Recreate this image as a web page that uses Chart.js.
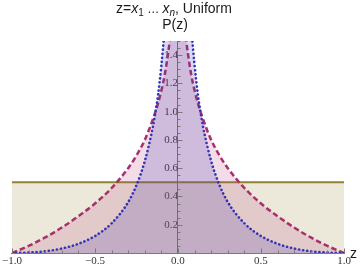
<!DOCTYPE html>
<html>
<head>
<meta charset="utf-8">
<script src="https://cdn.jsdelivr.net/npm/chart.js@4.4.0/dist/chart.umd.min.js"></script>
<style>
  html, body { margin: 0; padding: 0; background: #fff; }
  #wrap { width: 364px; height: 267px; position: relative; }
</style>
</head>
<body>
<div id="wrap"><canvas id="chart"></canvas></div>
<script>
// values
var zValues = [-1, -0.9, -0.8, -0.7, -0.6, -0.5, -0.4, -0.3, -0.25, -0.2, -0.15, -0.12, -0.1, -0.08, -0.06, -0.05, -0.04, -0.03,
               0.03, 0.04, 0.05, 0.06, 0.08, 0.1, 0.12, 0.15, 0.2, 0.25, 0.3, 0.4, 0.5, 0.6, 0.7, 0.8, 0.9, 1];
var prod2P = [0, 0.05, 0.11, 0.18, 0.26, 0.35, 0.46, 0.60, 0.69, 0.80, 0.95, 1.06, 1.15, 1.26, 1.41, 1.50, 1.61, 1.75,
              1.75, 1.61, 1.50, 1.41, 1.26, 1.15, 1.06, 0.95, 0.80, 0.69, 0.60, 0.46, 0.35, 0.26, 0.18, 0.11, 0.05, 0];
var prod3P = [0, 0.003, 0.012, 0.032, 0.065, 0.12, 0.21, 0.36, 0.48, 0.65, 0.90, 1.12, 1.33, 1.60, 1.98, 2.24, 2.59, 3.07,
              3.07, 2.59, 2.24, 1.98, 1.60, 1.33, 1.12, 0.90, 0.65, 0.48, 0.36, 0.21, 0.12, 0.065, 0.032, 0.012, 0.003, 0];
var uniformZ = [-1, 1];
var uniformP = [0.5, 0.5];

var xTickValues = [-1, -0.5, 0, 0.5, 1];
var xTickLabels = ["\u22121.0", "\u22120.5", "0.0", "0.5", "1.0"];
var yTickValues = [0.2, 0.4, 0.6, 0.8, 1.0, 1.2, 1.4];
var yTickLabels = ["0.2", "0.4", "0.6", "0.8", "1.0", "1.2", "1.4"];

function pts(xs, ys) {
  return xs.map(function(x, i) { return { x: x, y: ys[i] }; });
}

var axisColor = "#7a7a7a";
var tickFont = { family: "'Liberation Serif', 'DejaVu Serif', serif", size: 11 };

// minor/major tick marks pointing into the plot, like Mathematica
var tickMarks = {
  id: "tickMarks",
  afterDatasetsDraw: function(chart) {
    var ctx = chart.ctx, xs = chart.scales.x, ys = chart.scales.y;
    var y0 = ys.getPixelForValue(0), x0 = xs.getPixelForValue(0);
    ctx.save();
    ctx.strokeStyle = axisColor;
    ctx.lineWidth = 1;
    ctx.beginPath();
    for (var i = -10; i <= 10; i++) {
      var v = i / 10;
      var px = Math.round(xs.getPixelForValue(v)) + 0.5;
      var len = (i % 5 === 0) ? 4.5 : 2.5;
      ctx.moveTo(px, y0);
      ctx.lineTo(px, y0 - len);
    }
    for (var j = 1; j <= 30; j++) {
      var w = j * 0.05;
      var py = Math.round(ys.getPixelForValue(w)) + 0.5;
      var l2 = (j % 4 === 0) ? 4.5 : 2.5;
      ctx.moveTo(x0, py);
      ctx.lineTo(x0 + l2, py);
    }
    ctx.stroke();
    ctx.restore();
  }
};

// title and axis labels
var labels = {
  id: "labels",
  afterDraw: function(chart) {
    var ctx = chart.ctx, xs = chart.scales.x, ys = chart.scales.y;
    var sans = "'Liberation Sans', Arial, sans-serif";
    ctx.save();
    ctx.fillStyle = "#1a1a1a";
    ctx.textBaseline = "alphabetic";
    var parts = [
      { t: "z=", f: "14px " + sans, dy: 0 },
      { t: "x", f: "italic 14px " + sans, dy: 0 },
      { t: "1", f: "10px " + sans, dy: 3 },
      { t: " \u2026 ", f: "12px " + sans, dy: 0 },
      { t: "x", f: "italic 14px " + sans, dy: 0 },
      { t: "n", f: "italic 10px " + sans, dy: 3 },
      { t: ", Uniform", f: "14px " + sans, dy: 0 }
    ];
    var total = 0;
    parts.forEach(function(p) { ctx.font = p.f; p.w = ctx.measureText(p.t).width; total += p.w; });
    var x = 174 - total / 2;
    ctx.textAlign = "left";
    parts.forEach(function(p) { ctx.font = p.f; ctx.fillText(p.t, x, 13 + p.dy); x += p.w; });

    ctx.font = "14px " + sans;
    ctx.textAlign = "center";
    ctx.fillText("P(z)", xs.getPixelForValue(0) - 3, 29);
    ctx.textAlign = "left";
    ctx.font = "14px " + sans;
    ctx.fillText("z", chart.chartArea.right + 6, ys.getPixelForValue(0) + 5);
    ctx.restore();
  }
};

var ctx = document.getElementById("chart").getContext("2d");
var chart = new Chart(ctx, {
  type: "line",
  data: {
    datasets: [
      {
        label: "n=3",
        data: pts(zValues, prod3P),
        borderColor: "#3434b4",
        backgroundColor: "rgba(70,60,170,0.2)",
        borderWidth: 2.6,
        borderDash: [0.1, 4],
        borderCapStyle: "round",
        fill: "origin",
        cubicInterpolationMode: "monotone",
        pointRadius: 0,
        order: 1
      },
      {
        label: "n=2",
        data: pts(zValues, prod2P),
        borderColor: "#a8306c",
        backgroundColor: "rgba(175,60,130,0.18)",
        borderWidth: 2.5,
        borderDash: [5.5, 3],
        fill: "origin",
        cubicInterpolationMode: "monotone",
        pointRadius: 0,
        order: 2
      },
      {
        label: "uniform",
        data: pts(uniformZ, uniformP),
        borderColor: "#938232",
        backgroundColor: "rgba(160,140,70,0.2)",
        borderWidth: 2,
        fill: "origin",
        pointRadius: 0,
        order: 3
      }
    ]
  },
  options: {
    responsive: true,
    maintainAspectRatio: false,
    animation: false,
    layout: { padding: { left: 8, right: 20, top: 41, bottom: 0 } },
    plugins: { legend: { display: false }, tooltip: { enabled: false }, title: { display: false } },
    scales: {
      x: {
        type: "linear",
        position: "bottom",
        min: -1,
        max: 1,
        afterFit: function(s) { s.height = 14; },
        afterBuildTicks: function(s) { s.ticks = xTickValues.map(function(v) { return { value: v }; }); },
        grid: { display: false, drawTicks: false },
        border: { display: true, color: axisColor, width: 1 },
        ticks: {
          padding: 2,
          color: "#333",
          font: tickFont,
          maxRotation: 0,
          callback: function(v) { return xTickLabels[xTickValues.indexOf(v)]; }
        }
      },
      y: {
        type: "linear",
        position: { x: 0 },
        min: 0,
        max: 1.5,
        afterBuildTicks: function(s) { s.ticks = yTickValues.map(function(v) { return { value: v }; }); },
        grid: { display: false, drawTicks: false },
        border: { display: true, color: axisColor, width: 1 },
        ticks: {
          padding: 2,
          color: "#333",
          font: tickFont,
          callback: function(v) { return yTickLabels[yTickValues.indexOf(v)]; }
        }
      }
    }
  },
  plugins: [tickMarks, labels]
});
</script>
</body>
</html>
